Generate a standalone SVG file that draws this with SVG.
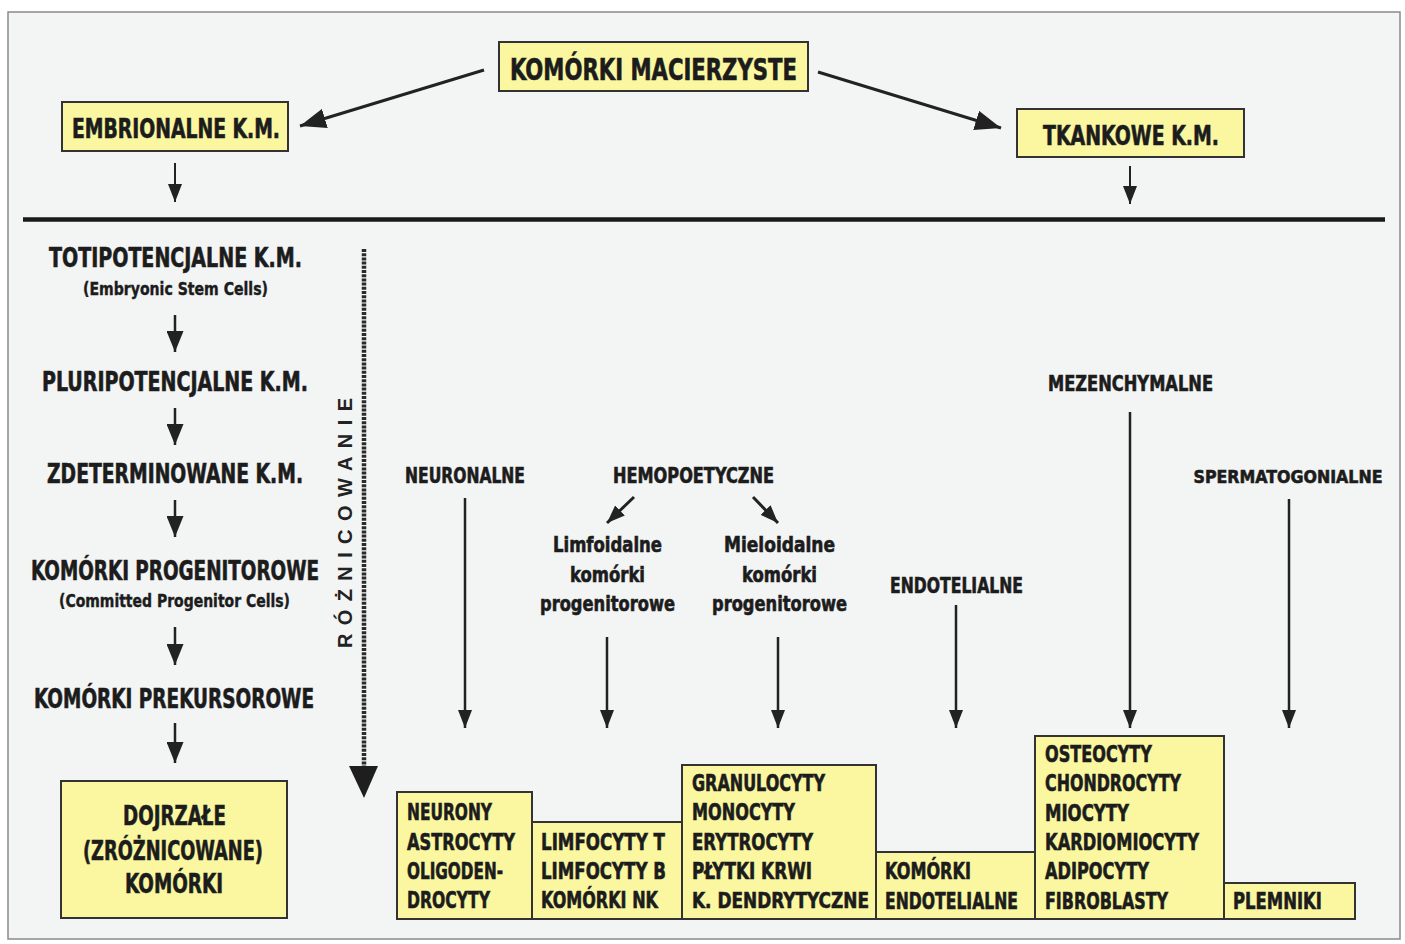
<svg xmlns="http://www.w3.org/2000/svg" width="1405" height="944" viewBox="0 0 1405 944">
<style>
.t{font-family:"Liberation Sans Narrow","DejaVu Sans Condensed","Liberation Sans",sans-serif;font-weight:bold;fill:#1c1c1c;stroke:#1c1c1c;stroke-width:0.6}
.box{fill:#faf7a0;stroke:#333;stroke-width:2}
.ln{stroke:#222;fill:none}
.m{text-anchor:middle}
</style>
<defs>
<marker id="ahTop" markerUnits="userSpaceOnUse" markerWidth="26" markerHeight="20" viewBox="0 0 26 20" refX="26" refY="10" orient="auto"><path d="M0,0 L26,10 L0,20 z" fill="#222"/></marker>
<marker id="ahL" markerUnits="userSpaceOnUse" markerWidth="21" markerHeight="17" viewBox="0 0 21 17" refX="21" refY="8.5" orient="auto"><path d="M0,0 L21,8.5 L0,17 z" fill="#222"/></marker>
<marker id="ahS" markerUnits="userSpaceOnUse" markerWidth="18" markerHeight="14" viewBox="0 0 18 14" refX="18" refY="7" orient="auto"><path d="M0,0 L18,7 L0,14 z" fill="#222"/></marker>
</defs>
<rect x="8" y="12" width="1392" height="927" fill="#f3f4f4" stroke="#8a8a8a" stroke-width="1.5"/>
<line x1="23" y1="219.5" x2="1385" y2="219.5" stroke="#1a1a1a" stroke-width="4.5"/>

<g id="connectors">
<line class="ln" x1="484" y1="70" x2="300" y2="126" stroke-width="3" marker-end="url(#ahTop)"/>
<line class="ln" x1="818" y1="72" x2="1001" y2="128" stroke-width="3" marker-end="url(#ahTop)"/>
<line class="ln" x1="175" y1="163" x2="175" y2="202" stroke-width="2" marker-end="url(#ahS)"/>
<line class="ln" x1="1130" y1="166" x2="1130" y2="204" stroke-width="2" marker-end="url(#ahS)"/>
<line class="ln" x1="175" y1="315" x2="175" y2="352" stroke-width="2.5" marker-end="url(#ahL)"/>
<line class="ln" x1="175" y1="408" x2="175" y2="445" stroke-width="2.5" marker-end="url(#ahL)"/>
<line class="ln" x1="175" y1="500" x2="175" y2="537" stroke-width="2.5" marker-end="url(#ahL)"/>
<line class="ln" x1="175" y1="627" x2="175" y2="665" stroke-width="2.5" marker-end="url(#ahL)"/>
<line class="ln" x1="175" y1="723" x2="175" y2="763" stroke-width="2.5" marker-end="url(#ahL)"/>
<line x1="364" y1="249" x2="364" y2="772" stroke="#2a2a2a" stroke-width="4.5" stroke-dasharray="3 1.2"/>
<polygon points="349,766 378,766 364,798" fill="#1e1e1e"/>
<line class="ln" x1="634" y1="497" x2="607" y2="523" stroke-width="3" marker-end="url(#ahS)"/>
<line class="ln" x1="753" y1="497" x2="778" y2="523" stroke-width="3" marker-end="url(#ahS)"/>
<line class="ln" x1="465" y1="498" x2="465" y2="728" stroke-width="2.5" marker-end="url(#ahS)"/>
<line class="ln" x1="607" y1="637" x2="607" y2="728" stroke-width="2.5" marker-end="url(#ahS)"/>
<line class="ln" x1="778" y1="637" x2="778" y2="728" stroke-width="2.5" marker-end="url(#ahS)"/>
<line class="ln" x1="956" y1="605" x2="956" y2="728" stroke-width="2.5" marker-end="url(#ahS)"/>
<line class="ln" x1="1130" y1="412" x2="1130" y2="728" stroke-width="2.5" marker-end="url(#ahS)"/>
<line class="ln" x1="1289" y1="499" x2="1289" y2="728" stroke-width="2.5" marker-end="url(#ahS)"/>
</g>

<g id="n-komorki-macierzyste">
<rect class="box" x="499" y="42" width="309" height="49"/>
<text class="t m" x="653.5" y="80" font-size="30" textLength="287" lengthAdjust="spacingAndGlyphs">KOMÓRKI MACIERZYSTE</text>
</g>
<g id="n-embrionalne">
<rect class="box" x="62" y="102" width="226" height="49"/>
<text class="t m" x="176" y="138" font-size="26" textLength="208" lengthAdjust="spacingAndGlyphs">EMBRIONALNE K.M.</text>
</g>
<g id="n-tkankowe">
<rect class="box" x="1017" y="109" width="227" height="48"/>
<text class="t m" x="1131" y="145" font-size="26" textLength="176" lengthAdjust="spacingAndGlyphs">TKANKOWE K.M.</text>
</g>

<g id="n-totipotencjalne">
<text class="t m" x="175.5" y="267" font-size="26" textLength="253" lengthAdjust="spacingAndGlyphs">TOTIPOTENCJALNE K.M.</text>
<text class="t m" x="175.5" y="295" font-size="18" textLength="185" lengthAdjust="spacingAndGlyphs" style="stroke-width:0.4">(Embryonic Stem Cells)</text>
</g>
<g id="n-pluripotencjalne">
<text class="t m" x="175" y="391" font-size="26" textLength="266" lengthAdjust="spacingAndGlyphs">PLURIPOTENCJALNE K.M.</text>
</g>
<g id="n-zdeterminowane">
<text class="t m" x="175" y="483" font-size="26" textLength="256" lengthAdjust="spacingAndGlyphs">ZDETERMINOWANE K.M.</text>
</g>
<g id="n-progenitorowe">
<text class="t m" x="175" y="580" font-size="26" textLength="288" lengthAdjust="spacingAndGlyphs">KOMÓRKI PROGENITOROWE</text>
<text class="t m" x="174.5" y="607" font-size="18" textLength="231" lengthAdjust="spacingAndGlyphs" style="stroke-width:0.4">(Committed Progenitor Cells)</text>
</g>
<g id="n-prekursorowe">
<text class="t m" x="174" y="708" font-size="26" textLength="280" lengthAdjust="spacingAndGlyphs">KOMÓRKI PREKURSOROWE</text>
</g>
<g id="n-dojrzale">
<rect class="box" x="61" y="781" width="226" height="137"/>
<text class="t m" x="174.5" y="825" font-size="26" textLength="103" lengthAdjust="spacingAndGlyphs">DOJRZAŁE</text>
<text class="t m" x="173" y="860" font-size="26" textLength="180" lengthAdjust="spacingAndGlyphs">(ZRÓŻNICOWANE)</text>
<text class="t m" x="174" y="893" font-size="26" textLength="98" lengthAdjust="spacingAndGlyphs">KOMÓRKI</text>
</g>
<g id="n-roznicowanie">
<text transform="translate(352,648) rotate(-90)" x="0" y="0" font-family="'Liberation Sans','DejaVu Sans',sans-serif" font-weight="bold" font-size="20" fill="#222" textLength="250" lengthAdjust="spacing">RÓŻNICOWANIE</text>
</g>

<g id="n-neuronalne">
<text class="t m" x="465" y="483" font-size="21" textLength="120" lengthAdjust="spacingAndGlyphs">NEURONALNE</text>
</g>
<g id="n-hemopoetyczne">
<text class="t m" x="693.5" y="483" font-size="21" textLength="161" lengthAdjust="spacingAndGlyphs">HEMOPOETYCZNE</text>
</g>
<g id="n-limfoidalne">
<text class="t m" x="607.5" y="552" font-size="21" textLength="109" lengthAdjust="spacingAndGlyphs">Limfoidalne</text>
<text class="t m" x="607.5" y="582" font-size="21" textLength="75" lengthAdjust="spacingAndGlyphs">komórki</text>
<text class="t m" x="607.5" y="611" font-size="21" textLength="135" lengthAdjust="spacingAndGlyphs">progenitorowe</text>
</g>
<g id="n-mieloidalne">
<text class="t m" x="779.5" y="552" font-size="21" textLength="111" lengthAdjust="spacingAndGlyphs">Mieloidalne</text>
<text class="t m" x="779.5" y="582" font-size="21" textLength="75" lengthAdjust="spacingAndGlyphs">komórki</text>
<text class="t m" x="779.5" y="611" font-size="21" textLength="135" lengthAdjust="spacingAndGlyphs">progenitorowe</text>
</g>
<g id="n-endotelialne">
<text class="t m" x="956.5" y="593" font-size="21" textLength="133" lengthAdjust="spacingAndGlyphs">ENDOTELIALNE</text>
</g>
<g id="n-mezenchymalne">
<text class="t m" x="1130.5" y="391" font-size="21" textLength="165" lengthAdjust="spacingAndGlyphs">MEZENCHYMALNE</text>
</g>
<g id="n-spermatogonialne">
<text class="t m" x="1288" y="483" font-size="18.5" textLength="189" lengthAdjust="spacingAndGlyphs">SPERMATOGONIALNE</text>
</g>

<g id="n-neurony">
<rect class="box" x="397" y="792" width="135" height="127"/>
<text class="t" x="407" y="820" font-size="23" textLength="85" lengthAdjust="spacingAndGlyphs">NEURONY</text>
<text class="t" x="407" y="850" font-size="23" textLength="108" lengthAdjust="spacingAndGlyphs">ASTROCYTY</text>
<text class="t" x="407" y="879" font-size="23" textLength="96" lengthAdjust="spacingAndGlyphs">OLIGODEN-</text>
<text class="t" x="407" y="908" font-size="23" textLength="83" lengthAdjust="spacingAndGlyphs">DROCYTY</text>
</g>
<g id="n-limfocyty">
<rect class="box" x="532" y="822" width="150" height="97"/>
<text class="t" x="541" y="850" font-size="23" textLength="124" lengthAdjust="spacingAndGlyphs">LIMFOCYTY T</text>
<text class="t" x="541" y="879" font-size="23" textLength="125" lengthAdjust="spacingAndGlyphs">LIMFOCYTY B</text>
<text class="t" x="541" y="908" font-size="23" textLength="117" lengthAdjust="spacingAndGlyphs">KOMÓRKI NK</text>
</g>
<g id="n-granulocyty">
<rect class="box" x="682" y="765" width="194" height="154"/>
<text class="t" x="692" y="791" font-size="23" textLength="133" lengthAdjust="spacingAndGlyphs">GRANULOCYTY</text>
<text class="t" x="692" y="820" font-size="23" textLength="103" lengthAdjust="spacingAndGlyphs">MONOCYTY</text>
<text class="t" x="692" y="850" font-size="23" textLength="121" lengthAdjust="spacingAndGlyphs">ERYTROCYTY</text>
<text class="t" x="692" y="879" font-size="23" textLength="120" lengthAdjust="spacingAndGlyphs">PŁYTKI KRWI</text>
<text class="t" x="692" y="908" font-size="22" textLength="177" lengthAdjust="spacingAndGlyphs">K. DENDRYTYCZNE</text>
</g>
<g id="n-komorki-endotelialne">
<rect class="box" x="876" y="852" width="159" height="67"/>
<text class="t" x="885" y="879" font-size="23" textLength="86" lengthAdjust="spacingAndGlyphs">KOMÓRKI</text>
<text class="t" x="885" y="909" font-size="23" textLength="133" lengthAdjust="spacingAndGlyphs">ENDOTELIALNE</text>
</g>
<g id="n-osteocyty">
<rect class="box" x="1035" y="736" width="189" height="183"/>
<text class="t" x="1045" y="762" font-size="23" textLength="107" lengthAdjust="spacingAndGlyphs">OSTEOCYTY</text>
<text class="t" x="1045" y="791" font-size="23" textLength="136" lengthAdjust="spacingAndGlyphs">CHONDROCYTY</text>
<text class="t" x="1045" y="821" font-size="23" textLength="84" lengthAdjust="spacingAndGlyphs">MIOCYTY</text>
<text class="t" x="1045" y="850" font-size="23" textLength="154" lengthAdjust="spacingAndGlyphs">KARDIOMIOCYTY</text>
<text class="t" x="1045" y="879" font-size="23" textLength="104" lengthAdjust="spacingAndGlyphs">ADIPOCYTY</text>
<text class="t" x="1045" y="909" font-size="23" textLength="123" lengthAdjust="spacingAndGlyphs">FIBROBLASTY</text>
</g>
<g id="n-plemniki">
<rect class="box" x="1224" y="883" width="131" height="36"/>
<text class="t" x="1233" y="909" font-size="23" textLength="89" lengthAdjust="spacingAndGlyphs">PLEMNIKI</text>
</g>
</svg>
